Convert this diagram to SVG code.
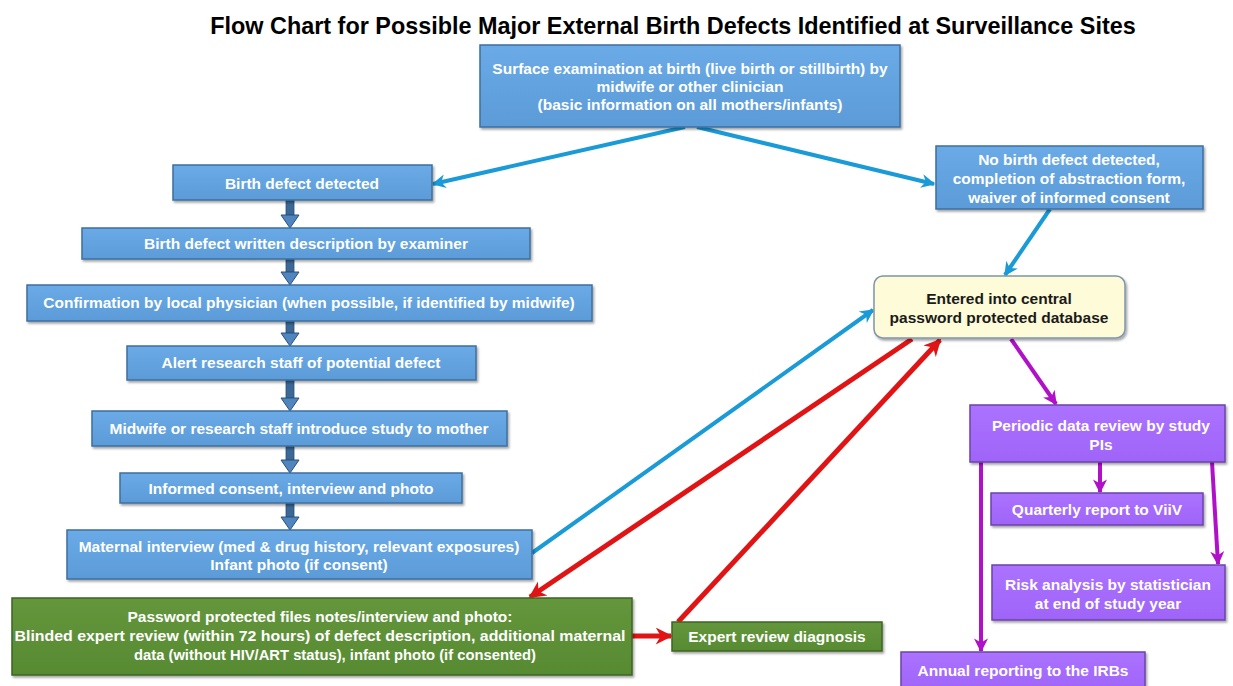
<svg xmlns="http://www.w3.org/2000/svg" width="1233" height="686" viewBox="0 0 1233 686">
<defs>
<linearGradient id="gb" x1="0" y1="0" x2="0" y2="1"><stop offset="0" stop-color="#6aaae6"/><stop offset="1" stop-color="#5b9bd8"/></linearGradient>
<linearGradient id="gg" x1="0" y1="0" x2="0" y2="1"><stop offset="0" stop-color="#64963c"/><stop offset="1" stop-color="#578a32"/></linearGradient>
<linearGradient id="gp" x1="0" y1="0" x2="0" y2="1"><stop offset="0" stop-color="#ab72ff"/><stop offset="1" stop-color="#9f64f8"/></linearGradient>
<filter id="sh" x="-5%" y="-10%" width="110%" height="130%"><feDropShadow dx="1.5" dy="2" stdDeviation="1.2" flood-color="#000" flood-opacity="0.35"/></filter>
<marker id="ab" viewBox="0 0 10 10" refX="9" refY="5" markerWidth="18" markerHeight="14" markerUnits="userSpaceOnUse" orient="auto"><path d="M0,0 L10,5 L0,10 L3,5 Z" fill="#1a9ad6"/></marker>
<marker id="ar" viewBox="0 0 10 10" refX="9" refY="5" markerWidth="20" markerHeight="17" markerUnits="userSpaceOnUse" orient="auto"><path d="M0,0 L10,5 L0,10 L3,5 Z" fill="#e01414"/></marker>
<marker id="ap" viewBox="0 0 10 10" refX="9" refY="5" markerWidth="16" markerHeight="14" markerUnits="userSpaceOnUse" orient="auto"><path d="M0,0 L10,5 L0,10 L3,5 Z" fill="#b010c8"/></marker>
</defs>
<style>
.bl{fill:url(#gb);stroke:#3e6f9e;stroke-width:1.5;filter:url(#sh)}
.gr{fill:url(#gg);stroke:#3d6424;stroke-width:1.5;filter:url(#sh)}
.pu{fill:url(#gp);stroke:#6b45a8;stroke-width:1.5;filter:url(#sh)}
.ye{fill:#fdfbd8;stroke:#7f95ab;stroke-width:1.5;filter:url(#sh)}
.t{font-family:"Liberation Sans",Arial,sans-serif;font-weight:bold;font-size:15.5px;fill:#ffffff;text-anchor:middle}
.tn{font-family:"Liberation Sans",Arial,sans-serif;font-weight:bold;font-size:15px;fill:#ffffff;text-anchor:middle}
.tk{font-family:"Liberation Sans",Arial,sans-serif;font-weight:bold;font-size:15.5px;fill:#1a1a1a;text-anchor:middle}
.ti{font-family:"Liberation Sans",Arial,sans-serif;font-weight:bold;font-size:23.4px;fill:#000;text-anchor:middle}
.cb{stroke:#1a9ad6;stroke-width:4;fill:none;marker-end:url(#ab)}
.cr{stroke:#e01414;stroke-width:5;fill:none;marker-end:url(#ar)}
.cp{stroke:#b010c8;stroke-width:4;fill:none;marker-end:url(#ap)}
.da{fill:#3b6894;stroke:#2b5078;stroke-width:0.8}
.dh{fill:#4f86bf;stroke:#2b5078;stroke-width:1}
</style>
<text class="ti" x="673" y="34">Flow Chart for Possible Major External Birth Defects Identified at Surveillance Sites</text>

<g id="connectors">
<path class="da" d="M286,200 L294,200 L294,215 L286,215 Z"/><path class="dh" d="M281,215 L299,215 L290,228 Z"/>
<path class="da" d="M286,259 L294,259 L294,272 L286,272 Z"/><path class="dh" d="M281,272 L299,272 L290,285 Z"/>
<path class="da" d="M286,321 L294,321 L294,333 L286,333 Z"/><path class="dh" d="M281,333 L299,333 L290,346 Z"/>
<path class="da" d="M286,380 L294,380 L294,398 L286,398 Z"/><path class="dh" d="M281,398 L299,398 L290,411 Z"/>
<path class="da" d="M286,446 L294,446 L294,460 L286,460 Z"/><path class="dh" d="M281,460 L299,460 L290,473 Z"/>
<path class="da" d="M286,503 L294,503 L294,517 L286,517 Z"/><path class="dh" d="M281,517 L299,517 L290,530 Z"/>
<line class="cb" x1="685" y1="127" x2="433" y2="184"/>
<line class="cb" x1="697" y1="127" x2="934" y2="184"/>
<line class="cb" x1="1050" y1="209" x2="1005" y2="275"/>
<line class="cb" x1="532" y1="553" x2="873" y2="310"/>
<line class="cr" x1="912" y1="339" x2="530" y2="597"/>
<line class="cr" x1="678" y1="622" x2="940" y2="340"/>
<line class="cr" x1="632" y1="636" x2="671" y2="636"/>
<line class="cp" x1="1011" y1="339" x2="1056" y2="404"/>
<line class="cp" x1="1100" y1="462" x2="1100" y2="492"/>
<line class="cp" x1="1212" y1="462" x2="1218" y2="564"/>
<line class="cp" x1="981" y1="462" x2="981" y2="651"/>
</g>

<g id="surface"><rect class="bl" x="480" y="45" width="420" height="82"/>
<text class="t" x="690" y="74">Surface examination at birth (live birth or stillbirth) by</text>
<text class="t" x="690" y="92">midwife or other clinician</text>
<text class="t" x="690" y="110">(basic information on all mothers/infants)</text></g>

<g id="detected"><rect class="bl" x="173" y="165" width="259" height="35"/>
<text class="t" x="302" y="189">Birth defect detected</text></g>

<g id="written"><rect class="bl" x="82" y="228" width="448" height="31"/>
<text class="t" x="306" y="249">Birth defect written description by examiner</text></g>

<g id="confirm"><rect class="bl" x="27" y="285" width="565" height="36"/>
<text class="t" x="309" y="308">Confirmation by local physician (when possible, if identified by midwife)</text></g>

<g id="alert"><rect class="bl" x="127" y="346" width="349" height="34"/>
<text class="t" x="301" y="368">Alert research staff of potential defect</text></g>

<g id="introduce"><rect class="bl" x="92" y="411" width="415" height="35"/>
<text class="t" x="299" y="434">Midwife or research staff introduce study to mother</text></g>

<g id="consent"><rect class="bl" x="120" y="473" width="342" height="30"/>
<text class="t" x="291" y="494">Informed consent, interview and photo</text></g>

<g id="maternal"><rect class="bl" x="67" y="530" width="465" height="49"/>
<text class="t" x="299" y="552">Maternal interview (med &amp; drug history, relevant exposures)</text>
<text class="t" x="299" y="570">Infant photo (if consent)</text></g>

<g id="password"><rect class="gr" x="12" y="598" width="620" height="77"/>
<text class="tn" x="320" y="622" textLength="385" lengthAdjust="spacingAndGlyphs">Password protected files notes/interview and photo:</text>
<text class="tn" x="320" y="641" textLength="611" lengthAdjust="spacingAndGlyphs">Blinded expert review (within 72 hours) of defect description, additional maternal</text>
<text class="tn" x="335" y="660" textLength="402" lengthAdjust="spacingAndGlyphs">data (without HIV/ART status), infant photo (if consented)</text></g>

<g id="expert"><rect class="gr" x="672" y="622" width="210" height="29"/>
<text class="t" x="777" y="642">Expert review diagnosis</text></g>

<g id="nodefect"><rect class="bl" x="936" y="146" width="267" height="63"/>
<text class="t" x="1069" y="165">No birth defect detected,</text>
<text class="t" x="1069" y="184">completion of abstraction form,</text>
<text class="t" x="1069" y="203">waiver of informed consent</text></g>

<g id="database"><rect class="ye" x="874" y="276" width="251" height="62" rx="9"/>
<text class="tk" x="999" y="304">Entered into central</text>
<text class="tk" x="999" y="323">password protected database</text></g>

<g id="periodic"><rect class="pu" x="970" y="405" width="255" height="57"/>
<text class="t" x="1101" y="431">Periodic data review by study</text>
<text class="t" x="1101" y="450">PIs</text></g>

<g id="quarterly"><rect class="pu" x="991" y="493" width="212" height="32"/>
<text class="t" x="1097" y="515">Quarterly report to ViiV</text></g>

<g id="risk"><rect class="pu" x="992" y="565" width="233" height="55"/>
<text class="t" x="1108" y="590">Risk analysis by statistician</text>
<text class="t" x="1108" y="609">at end of study year</text></g>

<g id="annual"><rect class="pu" x="901" y="652" width="244" height="40"/>
<text class="t" x="1023" y="676">Annual reporting to the IRBs</text></g>
</svg>
